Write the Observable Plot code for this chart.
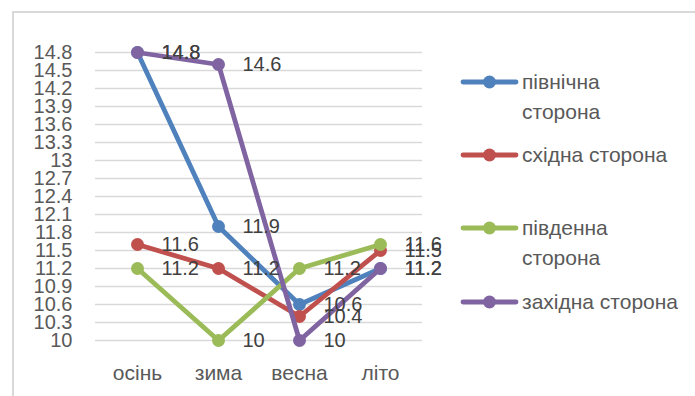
<!DOCTYPE html>
<html>
<head>
<meta charset="utf-8">
<script src="https://cdn.jsdelivr.net/npm/d3@7"></script>
<script src="https://cdn.jsdelivr.net/npm/@observablehq/plot@0.6"></script>
<style>
  body { margin: 0; background: #fff; }
  #wrap { position: relative; width: 695px; height: 396px; overflow: hidden; font-family: "Liberation Sans", Arial, sans-serif; }
  #border { position: absolute; left: 12px; top: 11px; width: 800px; height: 500px; border-left: 2px solid #d9d9d9; border-top: 2px solid #d9d9d9; }
  #chart { position: absolute; left: 0; top: 0; }
  .leg { position: absolute; left: 460px; display: flex; align-items: flex-start; color: #595959; font-size: 21px; line-height: 30px; }
  .leg svg { flex: none; margin-top: 8px; margin-right: 3px; }
</style>
</head>
<body>
<div id="wrap">
  <div id="border"></div>
  <div id="chart"></div>
  <div id="legend"></div>
</div>
<script>
const categories = ["осінь", "зима", "весна", "літо"];
const seriesNames = ["північна сторона", "східна сторона", "південна сторона", "західна сторона"];
const legendLabels = [["північна", "сторона"], ["східна сторона"], ["південна", "сторона"], ["західна сторона"]];
const north = [14.8, 11.9, 10.6, 11.2];
const east = [11.6, 11.2, 10.4, 11.5];
const south = [11.2, 10, 11.2, 11.6];
const west = [14.8, 14.6, 10, 11.2];
const yTicks = [10, 10.3, 10.6, 10.9, 11.2, 11.5, 11.8, 12.1, 12.4, 12.7, 13, 13.3, 13.6, 13.9, 14.2, 14.5, 14.8];
const yTickLabels = ["10", "10.3", "10.6", "10.9", "11.2", "11.5", "11.8", "12.1", "12.4", "12.7", "13", "13.3", "13.6", "13.9", "14.2", "14.5", "14.8"];
const colors = ["#4f81bd", "#c0504d", "#9bbb59", "#8064a2"];

const allValues = [north, east, south, west];
const rows = [];
allValues.forEach((vals, si) => {
  vals.forEach((v, ci) => rows.push({series: seriesNames[si], cat: categories[ci], value: v}));
});

const marks = [
  Plot.gridY(yTicks, {stroke: "#d9d9d9", strokeOpacity: 1, strokeWidth: 1.5}),
  Plot.axisY({ticks: yTicks, tickFormat: d => yTickLabels[yTicks.indexOf(d)], tickSize: 0, tickPadding: 23, fontSize: 20, fill: "#595959", label: null}),
  Plot.axisX({tickSize: 0, tickPadding: 25, fontSize: 21, fill: "#595959", label: null})
];
seriesNames.forEach((s, i) => {
  const d = rows.filter(r => r.series === s);
  marks.push(Plot.line(d, {x: "cat", y: "value", stroke: colors[i], strokeWidth: 4.8, strokeLinejoin: "round"}));
  marks.push(Plot.dot(d, {x: "cat", y: "value", fill: colors[i], r: 6.5}));
});
seriesNames.forEach((s, i) => {
  const d = rows.filter(r => r.series === s);
  marks.push(Plot.text(d, {x: "cat", y: "value", text: r => String(r.value), dx: 24, textAnchor: "start", fill: "#404040", fontSize: 20}));
});

const chart = Plot.plot({
  width: 695,
  height: 396,
  marginLeft: 95,
  marginRight: 273,
  marginTop: 52,
  marginBottom: 56,
  style: {fontFamily: "Liberation Sans, Arial, sans-serif", background: "transparent", overflow: "visible"},
  x: {type: "point", domain: categories, padding: 0.5},
  y: {domain: [10, 14.8]},
  marks
});
document.getElementById("chart").appendChild(chart);

const legendTops = [67, 140, 213, 287];
const legend = document.getElementById("legend");
legendLabels.forEach((lines, i) => {
  const div = document.createElement("div");
  div.className = "leg";
  div.style.top = legendTops[i] + "px";
  const ns = "http://www.w3.org/2000/svg";
  const svg = document.createElementNS(ns, "svg");
  svg.setAttribute("width", 59);
  svg.setAttribute("height", 14);
  const ln = document.createElementNS(ns, "line");
  ln.setAttribute("x1", 3); ln.setAttribute("x2", 56); ln.setAttribute("y1", 7); ln.setAttribute("y2", 7);
  ln.setAttribute("stroke", colors[i]); ln.setAttribute("stroke-width", 4.8); ln.setAttribute("stroke-linecap", "round");
  const c = document.createElementNS(ns, "circle");
  c.setAttribute("cx", 29.5); c.setAttribute("cy", 7); c.setAttribute("r", 6.5); c.setAttribute("fill", colors[i]);
  svg.appendChild(ln); svg.appendChild(c);
  const txt = document.createElement("div");
  lines.forEach((l, k) => {
    if (k) txt.appendChild(document.createElement("br"));
    txt.appendChild(document.createTextNode(l));
  });
  div.appendChild(svg);
  div.appendChild(txt);
  legend.appendChild(div);
});
</script>
</body>
</html>
